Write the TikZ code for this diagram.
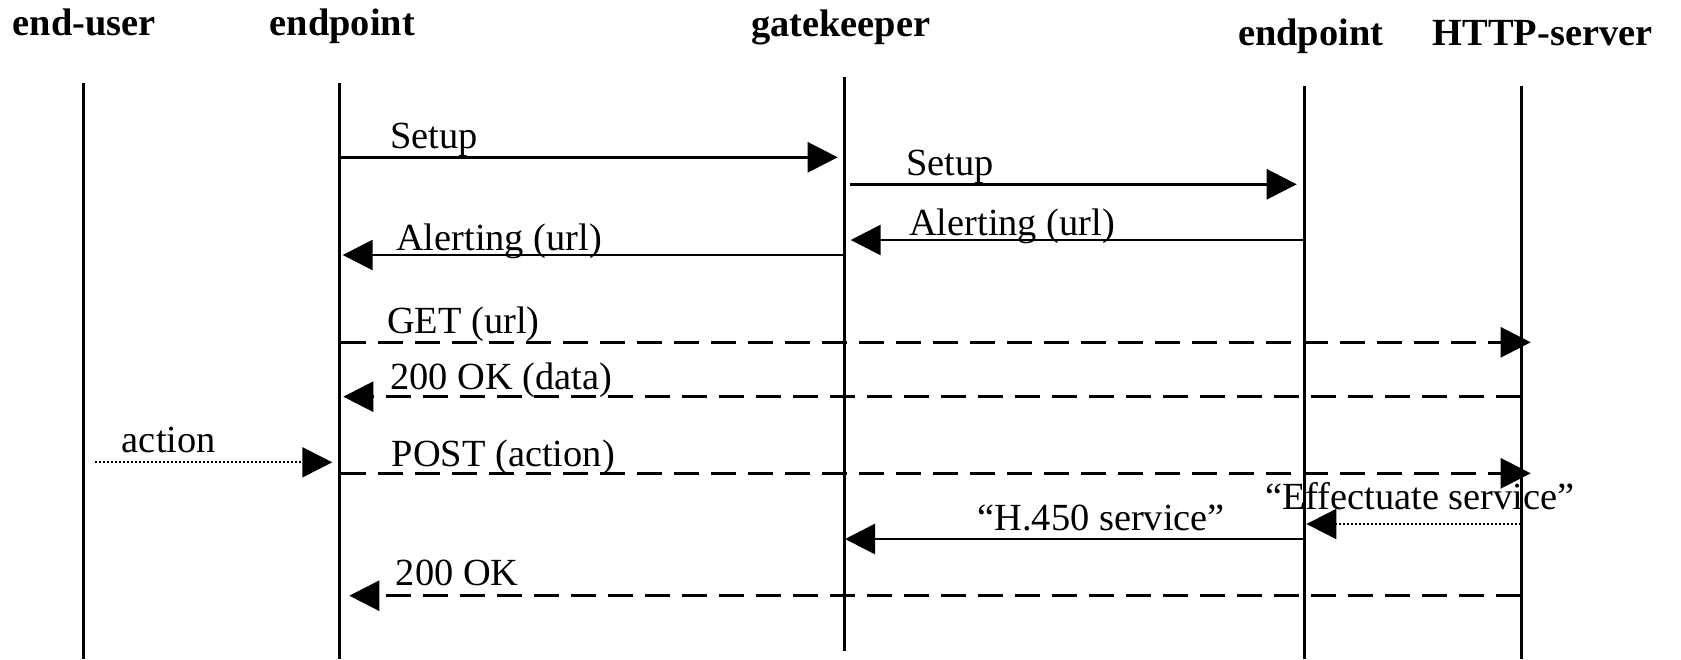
\documentclass[tikz,border=0pt]{standalone}
\usepackage{fontspec}
\setmainfont{Liberation Serif}
\usetikzlibrary{arrows.meta}
\begin{document}
\begin{tikzpicture}[x=1pt,y=-1pt,
  life/.style={line width=3pt},
  msg/.style={line width=2.7pt,-{Triangle[length=30pt,width=30pt]}},
  dashmsg/.style={msg, dash pattern=on 25pt off 12pt},
  dotmsg/.style={line width=2pt, dash pattern=on 2pt off 2pt, -{Triangle[length=30pt,width=30pt]}},
  title/.style={font=\fontsize{38.4}{46}\selectfont\bfseries, anchor=base west, inner sep=0pt},
  lbl/.style={font=\fontsize{38.4}{46}\selectfont, anchor=base west, inner sep=0pt}]
\useasboundingbox (0,0) rectangle (1681,659);

% titles
\node[title] (tUser) at (12.5,35) {end-user};
\node[title] (tEp1) at (269.6,35) {endpoint};
\node[title] (tGk) at (751,36) {gatekeeper};
\node[title] (tEp2) at (1238,45) {endpoint};
\node[title] (tHttp) at (1432.5,45) {HTTP-server};

% lifelines
\coordinate (uT) at (83,82.7);   \coordinate (uB) at (83,659);
\coordinate (eT) at (339.5,82.7); \coordinate (eB) at (339.5,659);
\coordinate (gT) at (844,76.7);  \coordinate (gB) at (844,651);
\coordinate (fT) at (1304,86);   \coordinate (fB) at (1304,659);
\coordinate (hT) at (1521,86);   \coordinate (hB) at (1521,659);
\draw[life] (uT) -- (uB);
\draw[life] (eT) -- (eB);
\draw[life] (gT) -- (gB);
\draw[life] (fT) -- (fB);
\draw[life] (hT) -- (hB);

% message end points
\coordinate (s1a) at (339.5,157.3); \coordinate (s1b) at (837.7,157.3);
\coordinate (s2a) at (850,184.3);   \coordinate (s2b) at (1296.7,184.3);
\coordinate (a2a) at (1304,240);    \coordinate (a2b) at (850.7,240);
\coordinate (a1a) at (844,255);     \coordinate (a1b) at (342.7,255);
\coordinate (geta) at (341,342.3);  \coordinate (getb) at (1530.7,342.3);
\coordinate (oka) at (1521,396.7);  \coordinate (okb) at (343.3,396.7);
\coordinate (acta) at (95,462.3);   \coordinate (actb) at (332.3,462.3);
\coordinate (posta) at (341,473.3); \coordinate (postb) at (1530.7,473.3);
\coordinate (effa) at (1521,524);   \coordinate (effb) at (1306.4,524);
\coordinate (h4a) at (1304,539);    \coordinate (h4b) at (845,539);
\coordinate (ok2a) at (1521,595.7); \coordinate (ok2b) at (349.3,595.7);

% messages
\draw[msg] (s1a) -- (s1b);
\node[lbl] (lS1) at (390,148.3) {Setup};
\draw[msg] (s2a) -- (s2b);
\node[lbl] (lS2) at (906,175) {Setup};
\draw[msg] (a2a) -- (a2b);
\node[lbl] (lA2) at (909,235) {Alerting (url)};
\draw[msg] (a1a) -- (a1b);
\node[lbl] (lA1) at (396,250) {Alerting (url)};
\draw[dashmsg] (geta) -- (getb);
\node[lbl] (lGet) at (387,333) {GET (url)};
\draw[dashmsg] (oka) -- (okb);
\node[lbl] (lOk) at (390,389) {200 OK (data)};
\draw[dotmsg] (acta) -- (actb);
\node[lbl] (lAct) at (121.7,452.3) {action};
\draw[dashmsg] (posta) -- (postb);
\node[lbl] (lPost) at (391.7,466.7) {POST (action)};
\draw[dotmsg] (effa) -- (effb);
\node[lbl] (lEff) at (1265,509.3) {“Effectuate service”};
\draw[msg] (h4a) -- (h4b);
\node[lbl] (lH4) at (977.3,530) {“H.450 service”};
\draw[dashmsg] (ok2a) -- (ok2b);
\node[lbl] (lOk2) at (395.7,585) {200 OK};
\end{tikzpicture}
\end{document}
